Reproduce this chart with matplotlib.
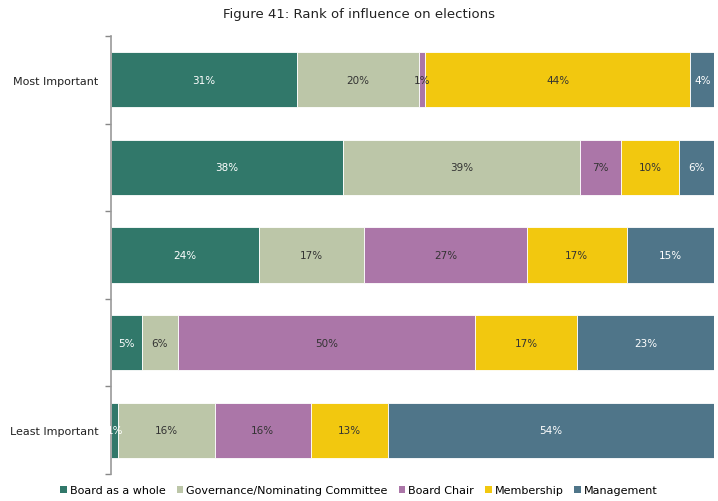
import matplotlib.pyplot as plt
import numpy as np
from matplotlib.patches import Patch

# ランク（上から下）
ranks = ["Most Important", "", "", "", "Least Important"]
series_names = [
    "Board as a whole",
    "Governance/Nominating Committee",
    "Board Chair",
    "Membership",
    "Management",
]
board_whole = [30.9, 38.5, 24.5, 5.1, 1.2]
governance = [20.2, 39.2, 17.4, 6.0, 16.0]
board_chair = [1.0, 6.9, 27.1, 49.3, 15.9]
membership = [44.0, 9.6, 16.5, 16.9, 12.9]
management = [3.9, 5.8, 14.5, 22.7, 54.0]
labels = [
    [31, 38, 24, 5, 1],
    [20, 39, 17, 6, 16],
    [1, 7, 27, 50, 16],
    [44, 10, 17, 17, 13],
    [4, 6, 15, 23, 54],
]

colors = ["#31786A", "#BCC6A8", "#AB76A8", "#F2C80F", "#4F7589"]
text_colors = ["white", "#333333", "#333333", "#333333", "white"]

plt.rcParams["font.family"] = ["DejaVu Sans"]

fig = plt.figure(figsize=(7.18, 5.02), dpi=100)
ax = fig.add_axes([0.1546, 0.0538, 0.8398, 0.8725])

values = [board_whole, governance, board_chair, membership, management]
y = np.arange(len(ranks))
left = np.zeros(len(ranks))
for i, vals in enumerate(values):
    vals = np.array(vals)
    ax.barh(y, vals, left=left, height=0.63, color=colors[i],
            edgecolor="white", linewidth=0.6)
    for j, v in enumerate(vals):
        ax.text(left[j] + v / 2, y[j], f"{labels[i][j]}%", ha="center",
                va="center", fontsize=7.5, color=text_colors[i])
    left += vals

ax.set_xlim(0, 100)
ax.set_ylim(len(ranks) - 0.5, -0.5)
ax.set_yticks(y)
ax.set_yticklabels(ranks, fontsize=8, color="#222222")
ax.tick_params(axis="y", which="major", length=0, pad=9)
ax.set_yticks(np.arange(-0.5, len(ranks)), minor=True)
ax.tick_params(axis="y", which="minor", length=4, color="#888888", width=1)
ax.set_xticks([])
for side in ["top", "right", "bottom"]:
    ax.spines[side].set_visible(False)
ax.spines["left"].set_color("#999999")
ax.spines["left"].set_linewidth(1.2)

fig.suptitle("Figure 41: Rank of influence on elections", x=0.5, y=0.985,
             fontsize=9.5, color="#222222")

handles = [Patch(facecolor=c, edgecolor="none") for c in colors]
fig.legend(handles, series_names, loc="lower center", ncol=5,
           bbox_to_anchor=(0.5, -0.008), frameon=False, fontsize=8,
           handlelength=0.6, handleheight=0.6, handletextpad=0.25,
           columnspacing=1.0)

fig.savefig("out.png", dpi=100)
